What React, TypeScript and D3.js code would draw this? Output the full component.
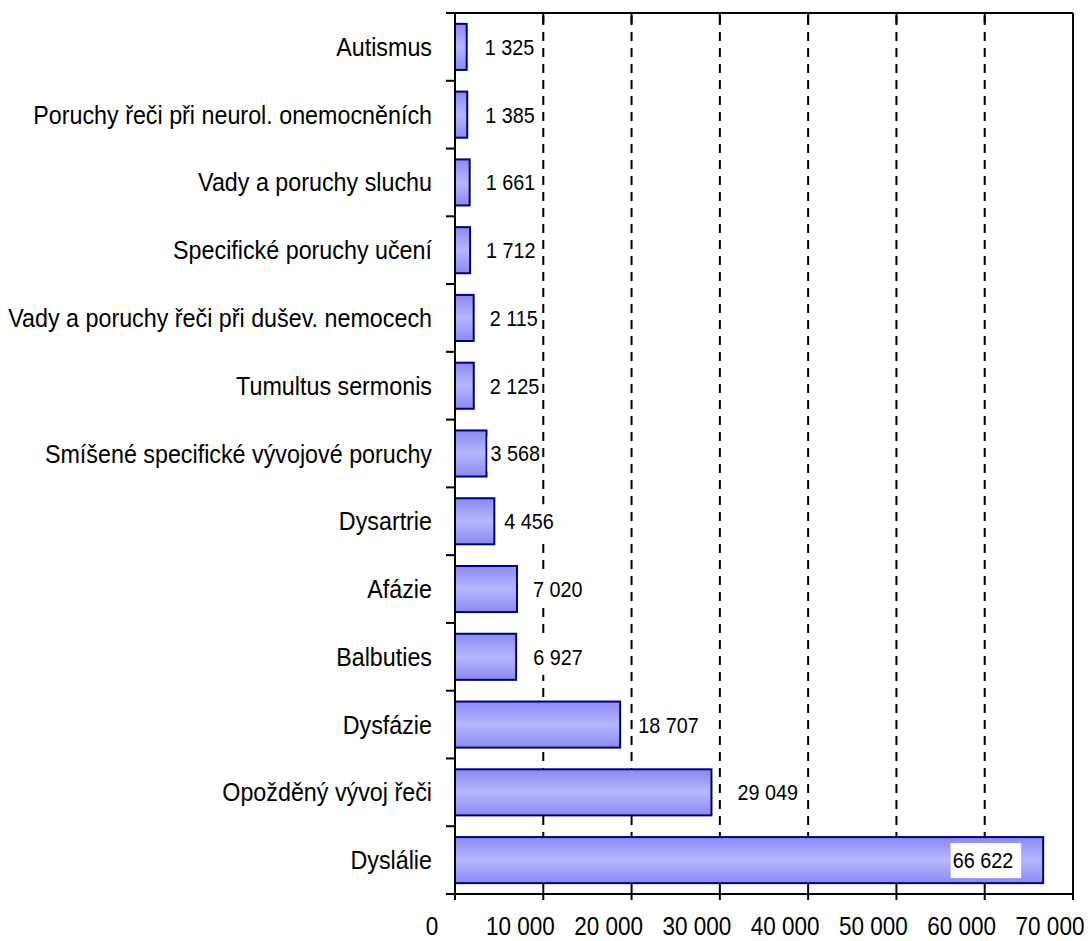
import React from "react";
import * as d3 from "d3";

const categories = [
  "Autismus",
  "Poruchy řeči při neurol. onemocněních",
  "Vady a poruchy sluchu",
  "Specifické poruchy učení",
  "Vady a poruchy řeči při dušev. nemocech",
  "Tumultus sermonis",
  "Smíšené specifické vývojové poruchy",
  "Dysartrie",
  "Afázie",
  "Balbuties",
  "Dysfázie",
  "Opožděný vývoj řeči",
  "Dyslálie",
];
const values = [1325, 1385, 1661, 1712, 2115, 2125, 3568, 4456, 7020, 6927, 18707, 29049, 66622];
const xTicks = [0, 10000, 20000, 30000, 40000, 50000, 60000, 70000];
// label text offset from bar end (px); negative = inside bar, right aligned
const labelDx = [18, 18, 16, 16, 16, 16, 4, 10, 16, 17, 18, 26, -30];

const W = 1089;
const H = 941;
const FONT = "'Liberation Sans', Arial, sans-serif";
const fmt = (v: number) => d3.format(",")(v).replace(/,/g, " ");

function T(props: { x: number; y: number; sx: number; size: number; anchor: string; dy?: string; children: React.ReactNode }) {
  return (
    <text
      transform={`translate(${props.x},${props.y}) scale(${props.sx},1)`}
      dy={props.dy}
      textAnchor={props.anchor}
      fontSize={props.size}
      fill="#000"
    >
      {props.children}
    </text>
  );
}

export default function App() {
  const left = 455, right = 1073, top = 13, bottom = 894;
  const x = d3.scaleLinear().domain([0, 70000]).range([left, right]);
  const y = d3.scaleBand<string>().domain(categories).range([top, bottom]).paddingInner(0.32).paddingOuter(0.16);
  const step = y.step();
  const boundaries = d3.range(categories.length + 1).map((i) => top + i * step);
  const labelScale = 0.9;

  return (
    <svg width={W} height={H} style={{ position: "absolute", left: 0, top: 0, background: "#fff" }} fontFamily={FONT}>
      <defs>
        <linearGradient id="barGrad" x1="0" y1="0" x2="0" y2="1">
          <stop offset="0%" stopColor="#8a8af0" />
          <stop offset="50%" stopColor="#b6b6ff" />
          <stop offset="100%" stopColor="#8a8af0" />
        </linearGradient>
      </defs>
      {/* gridlines */}
      {xTicks.slice(1, -1).map((t) => (
        <g key={"g" + t}>
          <line x1={x(t)} x2={x(t)} y1={top} y2={bottom} stroke="#000" strokeWidth={2} strokeDasharray="9,7" strokeDashoffset={-3} />
          <line x1={x(t)} x2={x(t)} y1={top} y2={top + 10} stroke="#000" strokeWidth={2} />
        </g>
      ))}
      {/* frame top/right */}
      <line x1={left} x2={right} y1={top} y2={top} stroke="#000" strokeWidth={2} />
      <line x1={right} x2={right} y1={top} y2={bottom} stroke="#000" strokeWidth={2} />
      {/* bars */}
      {categories.map((c, i) => (
        <rect
          key={c}
          x={x(0)}
          y={y(c)!}
          width={x(values[i]) - x(0)}
          height={y.bandwidth()}
          fill="url(#barGrad)"
          stroke="#000080"
          strokeWidth={2}
        />
      ))}
      {/* data labels */}
      {categories.map((c, i) => {
        const end = x(values[i]);
        const dx = labelDx[i];
        const inside = dx < 0;
        const label = fmt(values[i]);
        const tw = label.length * 10.1 * labelScale;
        const tx = end + dx;
        const cy = y(c)! + y.bandwidth() / 2;
        const bx = inside ? tx - tw - 8 : tx - 3;
        const bw = inside ? tw + 16 : tw + 6;
        return (
          <g key={"l" + c}>
            <rect x={bx} y={cy - 17} width={bw} height={35} fill="#fff" />
            <T x={tx} y={cy} sx={labelScale} size={22} anchor={inside ? "end" : "start"} dy="0.36em">
              {label}
            </T>
          </g>
        );
      })}
      {/* y axis */}
      <line x1={left} x2={left} y1={top} y2={bottom + 6} stroke="#000" strokeWidth={2} />
      {boundaries.map((b, i) => (
        <line key={"yt" + i} x1={left - 9} x2={left} y1={b} y2={b} stroke="#000" strokeWidth={2} />
      ))}
      {categories.map((c) => (
        <T key={"c" + c} x={432} y={y(c)! + y.bandwidth() / 2} sx={0.932} size={25} anchor="end" dy="0.36em">
          {c}
        </T>
      ))}
      {/* x axis */}
      <line x1={left - 9} x2={right} y1={bottom} y2={bottom} stroke="#000" strokeWidth={2} />
      {xTicks.map((t) => (
        <g key={"xt" + t}>
          <line x1={x(t)} x2={x(t)} y1={bottom - 5} y2={bottom + 6} stroke="#000" strokeWidth={2} />
          <T x={x(t) - 23} y={935} sx={0.9} size={25} anchor="middle">
            {fmt(t)}
          </T>
        </g>
      ))}
    </svg>
  );
}
